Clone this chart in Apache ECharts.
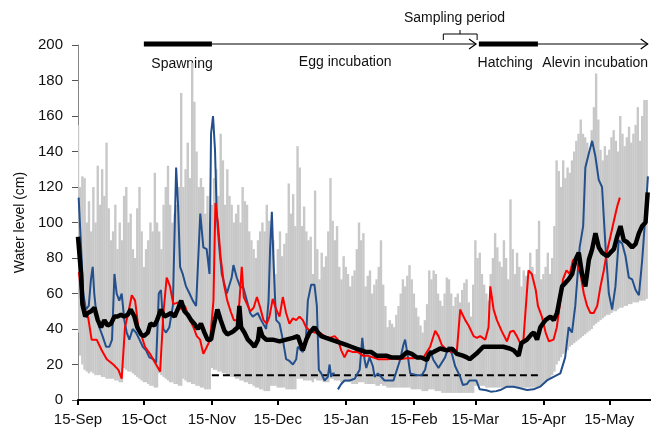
<!DOCTYPE html>
<html><head><meta charset="utf-8">
<script src="https://cdn.jsdelivr.net/npm/echarts@6/dist/echarts.min.js"></script>
<style>html,body{margin:0;padding:0;background:#fff}#c{width:651px;height:435px}</style>
</head><body><div id="c"></div>
<script>
// x = days since 15-Sep
const tickDays = [0,30,61,91,122,153,181,212,242];
const tickLabels = ['15-Sep','15-Oct','15-Nov','15-Dec','15-Jan','15-Feb','15-Mar','15-Apr','15-May'];

// daily range (grey bars), index = day
const grayMax = [
155,120,126,125,100,112,95,120,100,132,
110,130,115,145,108,90,95,110,85,100,
90,115,120,100,105,85,80,108,120,95,
75,85,90,100,95,128,100,95,85,110,
120,132,110,100,105,110,120,173,120,130,
145,125,190,168,140,120,125,120,105,115,
100,110,125,130,115,150,135,110,130,115,
110,100,105,110,100,120,112,110,95,90,
85,80,90,95,100,95,110,
101,95,90,71,85,95,81,88,94,122,
105,116,98,143,131,98,109,95,90,92,
71,118,85,68,83,75,81,95,125,101,
90,98,75,68,81,75,71,64,70,73,
85,100,90,94,64,70,73,60,65,68,
75,90,65,53,41,45,43,41,48,53,
60,68,64,70,76,68,60,52,47,42,
38,45,54,73,68,73,71,60,56,53,
60,69,68,60,53,58,60,55,62,66,
68,55,47,65,90,80,83,71,65,60,
56,71,80,94,86,78,75,90,80,68,
113,85,71,83,75,64,73,70,68,83,
75,71,85,101,68,71,75,83,71,80,
98,135,129,120,135,125,131,128,135,140,
146,150,158,150,148,145,140,152,165,184,
158,141,135,143,138,141,148,152,146,140,
160,150,143,148,154,145,150,155,165,146,
160,169,169];
const grayMin = [
38,25,20,17,16,15,16,15,14,14,
14,13,13,12,12,12,12,11,11,10,
10,18,17,16,16,15,14,13,12,11,
10,10,9,8,8,7,7,15,14,13,
12,11,10,10,9,9,8,8,12,11,
10,10,9,9,8,8,7,7,6,6,
6,18,17,17,16,16,15,15,14,14,
13,13,12,12,11,11,10,10,9,9,
8,7,7,6,6,5,5,5,8,8,
8,7,7,7,7,6,6,6,6,6,
12,12,12,11,11,11,11,10,12,11,
11,11,10,10,10,12,12,11,11,11,
10,10,10,10,10,9,9,9,10,10,
10,9,9,9,9,9,8,8,9,8,
8,7,7,7,7,7,7,7,7,7,
7,7,6,6,6,6,6,5,5,5,
6,6,6,5,5,5,4,4,4,4,
4,4,4,4,4,4,4,4,4,4,
4,8,8,8,8,8,7,7,7,7,
7,7,7,7,7,7,7,7,7,7,
7,7,7,7,7,7,7,7,7,7,
7,8,9,10,11,12,14,16,20,22,
24,26,27,28,30,31,32,33,34,35,
36,37,38,39,40,42,43,44,45,46,
47,48,48,49,50,50,51,52,52,53,
53,54,54,55,55,55,56,56,56,57];

const blackPts = [[0,92],[1.4,71],[2,54],[3.3,47],[4.4,49],[6,50],[7.5,52],[9,45],[10.5,41],[12,45],[13.5,42],[15,43],[16.6,47],[18,47],[19.6,48],[21,47],[22.6,48],[24,51],[25.7,47],[27,41],[28.7,37],[30,36],[31.8,38],[33,43],[34.8,42],[36,45],[37.8,51],[39.4,47],[41,48],[42.4,49],[44,47],[45.4,51],[47,56],[48.5,50],[50,48],[51.5,45],[53,43],[54.6,40],[56,43],[57.6,38],[59,34],[60.6,34],[62,43],[63.5,51],[65,45],[66.7,39],[68,37],[69.8,38],[71,39],[72.8,41],[73.5,53],[74.3,41],[75.8,38],[77.4,34],[79,32],[80.4,30],[82,34],[82.7,41],[84,36],[85.7,34],[88.7,34],[91.8,33],[94.8,34],[97.9,35],[100.1,36],[102.4,28],[104,34],[105.5,38],[107.7,41],[109.3,38],[110.8,36],[113,35],[115.3,34],[117.6,33],[119.9,32],[122.2,31],[124.5,30],[126.7,29],[129,28],[131.3,27],[133.6,27],[135.9,25],[138.1,25],[140.4,25],[142.7,24],[145,24],[147.3,24],[149.8,27],[152,26],[154.3,24],[156.4,24],[158.9,22.5],[160,26],[161.9,27],[165,29],[168,28],[170.3,29],[172.6,26],[175.3,25],[177.1,24],[178.4,23],[181.4,26],[184.6,30],[187.5,30],[190.5,30],[193.7,30],[196.6,29],[198.4,28],[200.7,25],[202,32],[204.5,34],[206.5,37],[207.6,38],[209.1,34],[210.6,41],[212.9,45],[215.2,47],[216.7,45],[218.2,49],[220.5,64],[222,66],[223.5,68],[225.1,71],[226.6,79],[228.1,83],[229.6,71],[231.1,64],[232.7,79],[234.2,85],[235.7,94],[237.2,86],[238.7,83],[241,81],[242.5,83],[244.1,85],[245.6,92],[247.1,98],[248.6,90],[250.1,89],[252.4,86],[254,88],[255.5,94],[257,98],[258.5,100],[259.5,117]];

const redPts = [[0.4,72],[1.7,58],[3.2,51],[4.7,46],[6.2,34],[8.5,34],[10.8,28],[13.1,23],[16.1,20],[18.4,17],[19.9,12],[21.4,41],[22.9,49],[24.5,59],[26,56],[27.5,41],[29,36],[30.5,30],[32.8,26],[35.1,21],[37.4,16],[38.9,49],[40.4,69],[41.9,64],[43.4,54],[45.7,55],[47.2,51],[48.7,53],[50.3,47],[52.6,41],[54.1,36],[55.6,34],[57.1,26],[58.7,30],[60.2,34],[61.7,56],[62.6,111],[63.7,100],[65,80],[66.5,65],[68,56],[69.5,50],[71,45],[72.5,45],[73.5,55],[74.6,75],[75.5,58],[77,54],[78.5,50],[80,52],[81.5,58],[83,52],[84.5,45],[86,43],[87.2,47],[88.7,57],[90.3,51],[91.8,47],[93.3,58],[94.8,49],[96.3,43],[97.9,46],[99.4,45],[100.9,47],[102.4,45],[103.9,41],[105.5,39],[107.7,38],[110,38],[112.3,36],[114.6,35],[116.9,36],[118.4,34],[119.9,28],[121.4,24],[122.9,28],[125.2,27],[127.5,27],[129.8,25],[132,25],[134.3,24],[136.6,23],[139,23],[141.2,23],[143.7,23.5],[146,23],[149.8,23.5],[152.8,23.5],[155,24],[157.4,24],[160.4,30],[162.7,39],[164.2,36],[165.7,31],[168,28],[170.3,27],[172.6,28],[174.1,51],[174.8,49],[176.4,45],[177.9,42],[180.2,36],[181.7,35],[183.2,36],[185.5,34],[187,41],[187.8,64],[189.3,51],[190.8,45],[193.1,38.5],[195.4,33],[196.9,38.5],[198.4,39],[199.9,36],[201.4,32],[202.9,34],[205.2,73],[206.7,71],[208.5,62],[209.5,53],[211.3,47],[213,38],[214.5,33],[216.6,34],[218.1,41],[219.5,54],[220.9,68],[222.5,73],[224,71],[225.5,79],[227.3,77],[228.9,71],[230.4,60],[231.9,53],[233.4,49],[234.9,49],[236.5,53],[238,64],[239.5,73],[241,84],[242.5,92],[244.1,101],[245.6,109],[246.8,114]];

const bluePts = [[0.3,114],[1.4,86],[2.4,60],[3.6,51],[4.9,53],[5.9,68],[6.7,75],[7.4,60],[8.5,47],[9.7,41],[11.2,36],[12.8,30],[14.3,30],[15.5,34],[16.6,71],[17.6,60],[18.8,56],[19.9,60],[21.1,45],[22.2,38],[23.4,34],[24.9,40],[26.4,38],[28,34],[29.5,30],[31,28],[32.5,24],[34.3,23],[35.6,21],[36.8,60],[37.8,62],[38.9,40],[40.1,38],[41.6,41],[43.2,53],[44.7,131],[45.6,109],[46.5,75],[47.7,71],[49.2,64],[50.8,60],[52.3,56],[53.8,53],[55,86],[55.7,105],[57.1,86],[58.6,85],[59.9,71],[60.6,150],[61.5,160],[62.4,141],[63.2,105],[64.2,88],[65.5,71],[67.8,60],[70,69],[70.8,76],[72.3,69],[73.8,64],[75.4,63],[76.9,56],[78.4,49],[79.6,47],[81.9,49],[83.4,45],[85.7,40],[86.8,56],[87.5,85],[88.3,106],[89,80],[89.8,56],[90.3,45],[91.8,43],[93.3,34],[94.8,23],[96.3,22],[97.9,20],[99.4,23],[100.1,30],[100.9,31],[102.4,27],[103.9,36],[104.7,56],[106.2,65],[107.7,65],[108.8,53],[109.7,17],[110.8,15],[112.3,11],[113.8,13],[114.6,20],[115.3,13],[116.1,15],[116.9,15],[117.6,null],[118.4,6],[119.9,9],[121.4,11],[123.7,11],[126,12],[128.3,17],[129.5,35],[130.5,23],[131.3,18],[132.8,24],[134.3,19],[135.1,13],[136.6,15],[138.1,13],[139.6,11],[141,11],[143.7,11],[146.7,22.5],[148.2,31],[149,34],[150.5,22.5],[151.3,15],[154.3,14],[156.6,14],[158.1,17],[159.6,26],[160.4,28],[161.9,22.5],[164.2,18],[167.2,24],[168.8,30],[170.3,26],[171.8,19],[174.1,13],[175.3,8.5],[177.1,9],[178.4,11],[181.4,11],[183,6],[186,5.5],[188,4.7],[190.5,5],[192.3,5.6],[195.4,7.5],[198.4,7.5],[201.4,6.6],[204.5,5.6],[207.5,6],[210.5,7.5],[213.6,11],[216.6,13],[219.7,15],[221.9,24],[223.5,41],[225,38],[226.5,53],[228.5,86],[230.1,98],[231.1,131],[232.7,139],[234.2,146],[235.7,137],[237.2,124],[238.7,120],[240.3,86],[241.8,60],[243.3,51],[244.8,64],[246.3,90],[247.9,88],[249.4,81],[250.9,69],[252.4,68],[254,62],[255.5,59],[257,79],[258.5,105],[259.6,126]];

const thresholdPts = [[61,14],[211,14]];

const rangeData = grayMax.map((mx, i) => [i, grayMin[i], mx]);

const FONT = 'Liberation Sans';
const chart = echarts.init(document.getElementById('c'));
chart.setOption({
  animation: false,
  textStyle: {fontFamily: FONT},
  grid: {left: 78, right: 0, top: 45, bottom: 35},
  xAxis: {
    type: 'value', min: 0, max: 261,
    axisLine: {onZero: true, lineStyle: {color: '#000', width: 2}},
    axisTick: {show: true, customValues: tickDays, length: 5, lineStyle: {color: '#000', width: 2}},
    axisLabel: {customValues: tickDays, formatter: v => tickLabels[tickDays.indexOf(v)] || '', fontSize: 15, color: '#111', margin: 12, fontFamily: FONT},
    splitLine: {show: false}
  },
  yAxis: {
    type: 'value', min: 0, max: 200, interval: 20,
    axisLine: {show: true, lineStyle: {color: '#868686', width: 1}},
    axisTick: {show: true, length: 6, lineStyle: {color: '#555', width: 1}},
    axisLabel: {fontSize: 15, color: '#111', margin: 15, fontFamily: FONT},
    splitLine: {show: false},
    name: 'Water level (cm)', nameLocation: 'middle', nameGap: 46,
    nameTextStyle: {fontSize: 14, color: '#111', fontFamily: FONT}
  },
  series: [
    {
      type: 'custom', data: rangeData, clip: true, z: 1,
      encode: {x: 0, y: [1, 2]},
      renderItem: (params, api) => {
        const x = api.value(0);
        const lo = api.coord([x, api.value(1)]);
        const hi = api.coord([x, api.value(2)]);
        const w = 2.4;
        return {type: 'rect', shape: {x: lo[0] - w / 2, y: hi[1], width: w, height: lo[1] - hi[1]}, style: {fill: '#c8c8c8'}};
      }
    },
    {type: 'line', data: thresholdPts, symbol: 'none', z: 2, lineStyle: {color: '#000', width: 2, type: [7, 4]}},
    {type: 'line', data: bluePts, symbol: 'none', z: 3, connectNulls: false, lineStyle: {color: '#23508c', width: 2}},
    {type: 'line', data: redPts, symbol: 'none', z: 4, lineStyle: {color: '#ff0000', width: 2}},
    {type: 'line', data: blackPts, symbol: 'none', z: 5, lineStyle: {color: '#000', width: 4.5}}
  ]
});

// annotation phases along top (days since 15-Sep)
const P = (d, v) => chart.convertToPixel({gridIndex: 0}, [d, v]);
const yTop = P(0, 200)[1] - 1;
const g = [];
function bar(d0, d1) {
  const a = P(d0, 200)[0], b = P(d1, 200)[0];
  g.push({type: 'rect', shape: {x: a, y: yTop - 2.5, width: b - a, height: 5}, style: {fill: '#000'}});
}
function arrow(d0, d1) {
  const a = P(d0, 200)[0], b = P(d1, 200)[0];
  g.push({type: 'line', shape: {x1: a, y1: yTop, x2: b, y2: yTop}, style: {stroke: '#000', lineWidth: 1.2}});
  g.push({type: 'polyline', shape: {points: [[b - 7, yTop - 5], [b, yTop], [b - 7, yTop + 5]]}, style: {stroke: '#000', fill: null, lineWidth: 1.2}});
}
function label(txt, d, dy) {
  g.push({type: 'text', x: P(d, 200)[0], y: yTop + dy, style: {text: txt, fontSize: 14, fontFamily: FONT, fill: '#111', align: 'center', verticalAlign: 'middle'}});
}
bar(30, 61);
arrow(61, 181.3);
bar(182.6, 209.5);
arrow(209.5, 259.5);
label('Spawning', 47.4, 20);
label('Egg incubation', 121.7, 18);
label('Hatching', 194.6, 19);
label('Alevin incubation', 235.6, 19);
label('Sampling period', 171.5, -26);
const b0 = P(166.4, 200)[0], b1 = P(181.8, 200)[0], bm = P(174, 200)[0];
g.push({type: 'polyline', shape: {points: [[b0, yTop - 4], [b0, yTop - 10], [b1, yTop - 10], [b1, yTop - 4]]}, style: {stroke: '#000', fill: null, lineWidth: 1}});
g.push({type: 'line', shape: {x1: bm, y1: yTop - 10, x2: bm, y2: yTop - 14}, style: {stroke: '#000', lineWidth: 1}});
chart.setOption({graphic: g});
</script>
</body></html>
